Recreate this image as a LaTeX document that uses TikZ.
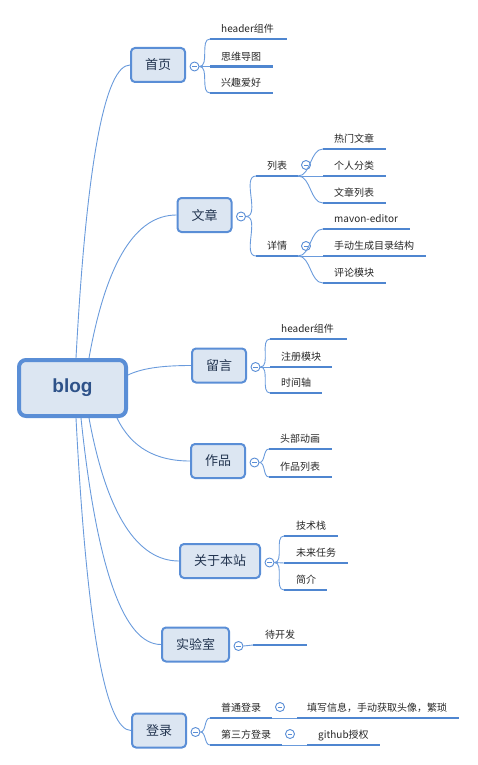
\documentclass[tikz,border=0pt]{standalone}
\usepackage{fontspec}
\setmainfont{Noto Sans CJK SC}
\newfontfamily\blogfont{Liberation Sans}
\usetikzlibrary{calc,backgrounds}
\definecolor{nodeblue}{HTML}{5A8ED6}
\definecolor{nodefill}{HTML}{DCE6F2}
\definecolor{barblue}{HTML}{4F86D0}
\definecolor{linkblue}{HTML}{6A9BDC}
\definecolor{maintext}{HTML}{22344F}
\definecolor{blogtext}{HTML}{2E5289}
\definecolor{leaftext}{HTML}{262626}
\begin{document}
\begin{tikzpicture}[x=1pt,y=-1pt,
  rootnode/.style={draw=nodeblue, line width=4pt, fill=nodefill, rounded corners=7pt,
    minimum width=107pt, minimum height=56pt, inner sep=0pt,
    font=\blogfont\bfseries\fontsize{19}{21}\selectfont, text=blogtext},
  mainnode/.style={draw=nodeblue, line width=2pt, fill=nodefill, rounded corners=4pt,
    minimum width=54pt, minimum height=34pt, inner xsep=14pt, inner ysep=0pt,
    font=\fontsize{13}{15}\selectfont, text=maintext},
  leaf/.style={anchor=south west, inner xsep=11pt, inner ysep=0pt,
    text height=8pt, text depth=6pt, font=\fontsize{10}{12}\selectfont, text=leaftext},
  bar/.style={draw=barblue, line width=2.7pt},
  conn/.style={draw=linkblue, line width=0.9pt},
  collapse/.style={circle, draw=nodeblue, line width=0.9pt, fill=white, minimum size=9pt, inner sep=0pt,
    path picture={\draw[nodeblue, line width=0.8pt]
      ([xshift=-2.2pt]path picture bounding box.center) -- ([xshift=2.2pt]path picture bounding box.center);}},
  bracket/.style={conn, out=0, in=180, looseness=0.9}
]
\useasboundingbox (0,0) rectangle (477,765);

% ---------- main nodes ----------
\node[rootnode] (blog) at (72.5,388) {blog};
\node[mainnode] (home) at (158,65) {首页};
\node[mainnode] (art) at (204.5,215) {文章};
\node[mainnode] (msg) at (219,365.5) {留言};
\node[mainnode] (works) at (218,461) {作品};
\node[mainnode] (about) at (220,561) {关于本站};
\node[mainnode] (lab) at (195.5,644.5) {实验室};
\node[mainnode] (login) at (159,730.5) {登录};

% start points on blog
\coordinate (bt1) at ([xshift=59pt]blog.north west);
\coordinate (bt2) at ([xshift=72pt]blog.north west);
\coordinate (be1) at ([yshift=13pt]blog.east);
\coordinate (bb1) at ([xshift=100pt]blog.south west);
\coordinate (bb2) at ([xshift=72pt]blog.south west);
\coordinate (bb3) at ([xshift=64pt]blog.south west);
\coordinate (bb4) at ([xshift=59pt]blog.south west);

% main connectors, behind the nodes
\begin{pgfonlayer}{background}
\draw[conn] (bt1) .. controls +(10.6,-197) and +(-24.7,0) .. (home.west);
\draw[conn] (bt2) .. controls +(17.4,-97) and +(-40.6,0) .. (art.west);
\draw[conn] (be1) .. controls +(13,-6.3) and +(-31,0) .. (msg.west);
\draw[conn] (bb1) .. controls +(14.4,30) and +(-33.6,0) .. (works.west);
\draw[conn] (bb2) .. controls +(17.8,96.7) and +(-41.5,0) .. (about.west);
\draw[conn] (bb3) .. controls +(15.8,152) and +(-36.9,0) .. (lab.west);
\draw[conn] (bb4) .. controls +(10.8,210) and +(-25.2,0) .. (login.west);
\end{pgfonlayer}

% collapse circles
\node[collapse] (homec) at ([xshift=8.5pt,yshift=-1.5pt]home.east) {};
\node[collapse] (artc) at ([xshift=8.5pt,yshift=-1.5pt]art.east) {};
\node[collapse] (msgc) at ([xshift=8.5pt,yshift=-1.5pt]msg.east) {};
\node[collapse] (worksc) at ([xshift=8.5pt,yshift=-1.5pt]works.east) {};
\node[collapse] (aboutc) at ([xshift=8.5pt,yshift=-1.5pt]about.east) {};
\node[collapse] (labc) at ([xshift=8.5pt,yshift=-1.5pt]lab.east) {};
\node[collapse] (loginc) at ([xshift=8.5pt,yshift=-1.5pt]login.east) {};

% ---------- 首页 ----------
\node[leaf] (h1) at (210,39) {header组件};
\node[leaf] (h2) at (210,66.5) {思维导图};
\node[leaf] (h3) at (210,93) {兴趣爱好};
\draw[bar] (h1.south west) -- ++(77,0);
\draw[bar] (h2.south west) -- ++(63,0);
\draw[bar] (h3.south west) -- ++(63,0);
\draw[bracket] (homec.east) to (h1.south west);
\draw[conn] (homec.east) -- (h2.south west);
\draw[bracket] (homec.east) to (h3.south west);

% ---------- 文章 ----------
\node[leaf] (a1) at (256,176) {列表};
\node[leaf] (a2) at (256,256) {详情};
\draw[bar] (a1.south west) -- ++(42,0) coordinate (a1e);
\draw[bar] (a2.south west) -- ++(42,0) coordinate (a2e);
\draw[bracket] (artc.east) to (a1.south west);
\draw[bracket] (artc.east) to (a2.south west);
\node[collapse] (a1c) at ([xshift=8pt,yshift=11pt]a1e) {};
\node[collapse] (a2c) at ([xshift=8pt,yshift=10pt]a2e) {};

\node[leaf] (l1) at (323,149) {热门文章};
\node[leaf] (l2) at (323,176) {个人分类};
\node[leaf] (l3) at (323,203) {文章列表};
\draw[bar] (l1.south west) -- ++(63,0);
\draw[bar] (l2.south west) -- ++(63,0);
\draw[bar] (l3.south west) -- ++(63,0);
\draw[bracket] (a1e) to (l1.south west);
\draw[conn] (a1e) -- (l2.south west);
\draw[bracket] (a1e) to (l3.south west);

\node[leaf] (d1) at (323,229) {mavon-editor};
\node[leaf] (d2) at (323,256) {手动生成目录结构};
\node[leaf] (d3) at (323,283) {评论模块};
\draw[bar] (d1.south west) -- ++(87,0);
\draw[bar] (d2.south west) -- ++(103,0);
\draw[bar] (d3.south west) -- ++(63,0);
\draw[bracket] (a2e) to (d1.south west);
\draw[conn] (a2e) -- (d2.south west);
\draw[bracket] (a2e) to (d3.south west);

% ---------- 留言 ----------
\node[leaf] (m1) at (270,339) {header组件};
\node[leaf] (m2) at (270,367) {注册模块};
\node[leaf] (m3) at (270,393) {时间轴};
\draw[bar] (m1.south west) -- ++(77,0);
\draw[bar] (m2.south west) -- ++(62,0);
\draw[bar] (m3.south west) -- ++(52,0);
\draw[bracket] (msgc.east) to (m1.south west);
\draw[conn] (msgc.east) -- (m2.south west);
\draw[bracket] (msgc.east) to (m3.south west);

% ---------- 作品 ----------
\node[leaf] (w1) at (269,449) {头部动画};
\node[leaf] (w2) at (269,477) {作品列表};
\draw[bar] (w1.south west) -- ++(63,0);
\draw[bar] (w2.south west) -- ++(63,0);
\draw[bracket] (worksc.east) to (w1.south west);
\draw[bracket] (worksc.east) to (w2.south west);

% ---------- 关于本站 ----------
\node[leaf, inner xsep=12pt] (s1) at (284,536) {技术栈};
\node[leaf, inner xsep=12pt] (s2) at (284,563) {未来任务};
\node[leaf, inner xsep=12pt] (s3) at (284,590) {简介};
\draw[bar] (s1.south west) -- ++(54,0);
\draw[bar] (s2.south west) -- ++(64,0);
\draw[bar] (s3.south west) -- ++(43,0);
\draw[bracket] (aboutc.east) to (s1.south west);
\draw[conn] (aboutc.east) -- (s2.south west);
\draw[bracket] (aboutc.east) to (s3.south west);

% ---------- 实验室 ----------
\node[leaf, inner xsep=12pt] (x1) at (253,645) {待开发};
\draw[bar] (x1.south west) -- ++(54,0);
\draw[conn] (labc.east) -- (x1.south west);

% ---------- 登录 ----------
\node[leaf] (g1) at (210,718) {普通登录};
\node[leaf] (g2) at (210,745) {第三方登录};
\draw[bar] (g1.south west) -- ++(62,0) coordinate (g1e);
\draw[bar] (g2.south west) -- ++(72,0) coordinate (g2e);
\draw[bracket] (loginc.east) to (g1.south west);
\draw[bracket] (loginc.east) to (g2.south west);
\node[collapse] (g1c) at ([xshift=8pt,yshift=11pt]g1e) {};
\node[collapse] (g2c) at ([xshift=8pt,yshift=11pt]g2e) {};

\node[leaf, inner xsep=10pt] (p1) at (297,718) {填写信息，手动获取头像，繁琐};
\node[leaf] (p2) at (307,745) {github授权};
\draw[bar] (p1.south west) -- ++(162,0);
\draw[bar] (p2.south west) -- ++(73,0);
\draw[conn] (g1e) -- (p1.south west);
\draw[conn] (g2e) -- (p2.south west);
\end{tikzpicture}
\end{document}
